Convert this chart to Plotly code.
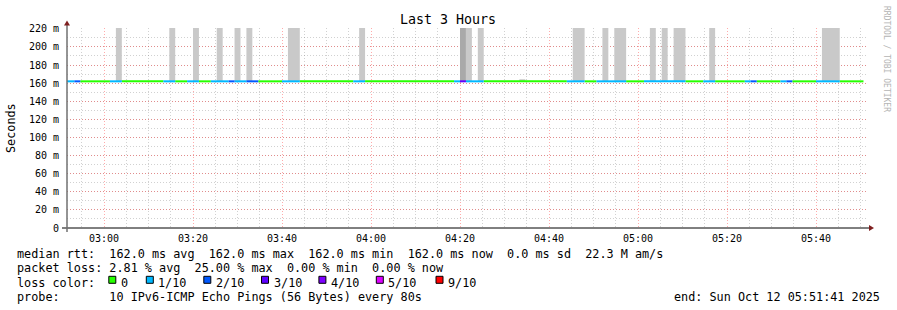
import plotly.graph_objects as go
import pandas as pd

# ---------------- data ----------------
window_start = "2025-10-12 02:51:41"
window_end = "2025-10-12 05:51:41"
first_step_start = "2025-10-12 02:50:40"
step_seconds = 80
median_rtt_ms = 162.0

# loss (in tenths of 10 pings) for each 80 s step, starting at first_step_start
loss_tenths = [
    1, 1, 2, 0, 0, 0, 0, 0, 1, 1,
    0, 0, 0, 0, 0, 0, 0, 1, 1, 0,
    0, 1, 1, 0, 0, 1, 1, 1, 2, 1,
    1, 2, 2, 0, 0, 0, 0, 1, 1, 1,
    0, 0, 0, 0, 0, 0, 0, 0, 0, 1,
    1, 0, 0, 0, 0, 0, 0, 0, 0, 0,
    0, 0, 0, 0, 0, 0, 1, 3, 1, 1,
    1, 0, 0, 0, 0, 0, 0, 0, 0, 0,
    0, 0, 0, 0, 0, 1, 1, 1, 0, 0,
    1, 1, 1, 1, 1, 0, 0, 0, 1, 1,
    1, 1, 1, 1, 1, 0, 0, 0, 1, 1,
    0, 0, 0, 0, 0, 1, 2, 0, 0, 0,
    0, 1, 2, 0, 0, 0, 0, 1, 1, 1,
    1, 0, 0, 0, 0,
]

# smoke (spread of the pings) : step index, top of smoke (ms), shade level
smoke_steps = [9, 18, 22, 26, 29, 31, 38, 39, 50, 67, 68, 70, 77, 86, 87,
               91, 93, 94, 99, 101, 103, 104, 109, 128, 129, 130]
smoke_top_ms = [260, 260, 260, 260, 260, 260, 260, 260, 260, 260, 260, 260, 164.3, 260, 260,
                260, 260, 260, 260, 260, 260, 260, 260, 260, 260, 260]
smoke_shade = [1, 1, 1, 1, 1, 1, 1, 1, 1, 2, 1, 1, 1, 1, 1,
               1, 1, 1, 1, 1, 1, 1, 1, 1, 1, 1]

loss_levels = [0, 1, 2, 3, 4, 5, 9]
loss_labels = ["0", "1/10", "2/10", "3/10", "4/10", "5/10", "9/10"]
loss_colors = ["#26ff00", "#00b8ff", "#0059ff", "#5e00ff", "#7e00ff", "#dd00ff", "#ff0000"]

y_tick_vals = [0, 20, 40, 60, 80, 100, 120, 140, 160, 180, 200, 220]
y_tick_text = ["0", "20 m", "40 m", "60 m", "80 m", "100 m", "120 m", "140 m",
               "160 m", "180 m", "200 m", "220 m"]

title_text = "Last 3 Hours"
y_title = "Seconds"
line_rtt = "median rtt:  162.0 ms avg  162.0 ms max  162.0 ms min  162.0 ms now  0.0 ms sd  22.3 M am/s"
line_loss = "packet loss: 2.81 % avg  25.00 % max  0.00 % min  0.00 % now"
line_color = "loss color:"
line_probe = "probe:       10 IPv6-ICMP Echo Pings (56 Bytes) every 80s"
line_end = "end: Sun Oct 12 05:51:41 2025"
watermark = "RRDTOOL / TOBI OETIKER"

# ---------------- layout geometry ----------------
W, H = 897, 310
PL, PR, PT, PB = 67, 868, 28, 228
MONO = "DejaVu Sans Mono"


def px(x):
    return (x - PL) / (PR - PL)


def py(y):
    return (PB - y) / (PB - PT)


def nb(s):
    return s.replace(" ", "\u00a0")


t0 = pd.Timestamp(first_step_start)
step = pd.Timedelta(seconds=step_seconds)
starts = [t0 + step * i for i in range(len(loss_tenths))]

fig = go.Figure()

# smoke bars: consecutive steps with equal top/shade are drawn as one block
groups = []
for idx, top, shade in zip(smoke_steps, smoke_top_ms, smoke_shade):
    if groups and groups[-1][1] == idx - 1 and groups[-1][2] == top and groups[-1][3] == shade:
        groups[-1][1] = idx
    else:
        groups.append([idx, idx, top, shade])
for a, b, top, shade in groups:
    n_steps = b - a + 1
    fig.add_trace(go.Bar(
        x=[starts[a] + step * n_steps / 2], y=[top - median_rtt_ms], base=[median_rtt_ms],
        width=[step_seconds * 1000 * n_steps],
        marker=dict(color="#c9c9c9" if shade == 1 else "#a9a9a9", line=dict(width=0)),
        showlegend=False, hoverinfo="skip"))

# loss coloured median line
for lvl, col in zip(loss_levels, loss_colors):
    xs, ys = [], []
    i = 0
    n = len(loss_tenths)
    while i < n:
        if loss_tenths[i] == lvl:
            j = i
            while j + 1 < n and loss_tenths[j + 1] == lvl:
                j += 1
            xs += [starts[i], starts[j] + step, None]
            ys += [median_rtt_ms, median_rtt_ms, None]
            i = j + 1
        else:
            i += 1
    if xs:
        fig.add_trace(go.Scatter(x=xs, y=ys, mode="lines",
                                 line=dict(color=col, width=2),
                                 showlegend=False, hoverinfo="skip"))

major_grid = "rgba(255,0,0,0.33)"
minor_grid = "rgba(128,128,128,0.36)"

fig.update_layout(
    width=W, height=H,
    margin=dict(l=PL, r=W - PR, t=PT, b=H - PB, pad=0),
    paper_bgcolor="white", plot_bgcolor="white",
    barmode="overlay", showlegend=False,
    xaxis=dict(
        type="date", range=[window_start, window_end],
        tick0="2025-10-12 03:00:00", dtick=20 * 60 * 1000, tickformat="%H:%M",
        showgrid=True, gridcolor=major_grid, griddash="1px,2px", gridwidth=1,
        minor=dict(dtick=5 * 60 * 1000, showgrid=True, gridcolor=minor_grid,
                   griddash="1px,2px", gridwidth=1),
        showline=False, zeroline=False, ticks="",
        tickfont=dict(family=MONO, size=10, color="#000"),
        ticklabelstandoff=3,
    ),
    yaxis=dict(
        range=[0, 220.9], tickvals=y_tick_vals, ticktext=y_tick_text,
        showgrid=True, gridcolor=major_grid, griddash="1px,2px", gridwidth=1,
        minor=dict(dtick=10, showgrid=True, gridcolor=minor_grid,
                   griddash="1px,2px", gridwidth=1),
        showline=False, zeroline=False, ticks="",
        tickfont=dict(family=MONO, size=10, color="#000"),
        ticklabelstandoff=7,
    ),
)

shapes = []
# axes lines
shapes.append(dict(type="line", xref="paper", yref="paper",
                   x0=px(62), x1=px(869), y0=py(228), y1=py(228),
                   line=dict(color="#000000", width=1)))
shapes.append(dict(type="line", xref="paper", yref="paper",
                   x0=px(67), x1=px(67), y0=py(232), y1=py(25),
                   line=dict(color="#707070", width=1.5)))
# arrows
shapes.append(dict(type="path", xref="paper", yref="paper",
                   path=f"M {px(64)} {py(25.5)} L {px(70)} {py(25.5)} L {px(67)} {py(20.5)} Z",
                   fillcolor="#7f1f1f", line=dict(width=0)))
shapes.append(dict(type="path", xref="paper", yref="paper",
                   path=f"M {px(869)} {py(225)} L {px(869)} {py(231)} L {px(874)} {py(228)} Z",
                   fillcolor="#7f1f1f", line=dict(width=0)))

annotations = []
annotations.append(dict(text=title_text, x=px(448), y=py(20), xref="paper", yref="paper",
                        showarrow=False, xanchor="center", yanchor="middle",
                        font=dict(family=MONO, size=13.3, color="#000")))
annotations.append(dict(text=y_title, x=px(11), y=py(128), xref="paper", yref="paper",
                        showarrow=False, xanchor="center", yanchor="middle", textangle=-90,
                        font=dict(family=MONO, size=11.8, color="#000")))
annotations.append(dict(text=nb(watermark), x=px(887), y=py(59), xref="paper", yref="paper",
                        showarrow=False, xanchor="center", yanchor="middle", textangle=90,
                        font=dict(family=MONO, size=8, color="#b4b4b4")))

LEG_FONT = dict(family=MONO, size=11.8, color="#000")
rows_y = [254.2, 268.4, 282.6, 296.8]
for txt, yy in [(line_rtt, rows_y[0]), (line_loss, rows_y[1]),
                (line_color, rows_y[2]), (line_probe, rows_y[3])]:
    annotations.append(dict(text=nb(txt), x=px(15), y=py(yy), xref="paper", yref="paper",
                            showarrow=False, xanchor="left", yanchor="middle", font=LEG_FONT))
annotations.append(dict(text=nb(line_end), x=px(882), y=py(rows_y[3]), xref="paper", yref="paper",
                        showarrow=False, xanchor="right", yanchor="middle", font=LEG_FONT))

swatch_x = [108.3, 145.8, 203.3, 261.0, 318.4, 375.8, 435.5]
for sx, lab, col in zip(swatch_x, loss_labels, loss_colors):
    shapes.append(dict(type="rect", xref="paper", yref="paper",
                       x0=px(sx + 0.5), x1=px(sx + 7.5), y0=py(283.3), y1=py(276.3),
                       fillcolor=col, line=dict(color="#000", width=1)))
    annotations.append(dict(text=nb(lab), x=px(sx + 10.5), y=py(rows_y[2]), xref="paper",
                            yref="paper", showarrow=False, xanchor="left", yanchor="middle",
                            font=LEG_FONT))

fig.update_layout(shapes=shapes, annotations=annotations)
fig.write_html("out.html")
